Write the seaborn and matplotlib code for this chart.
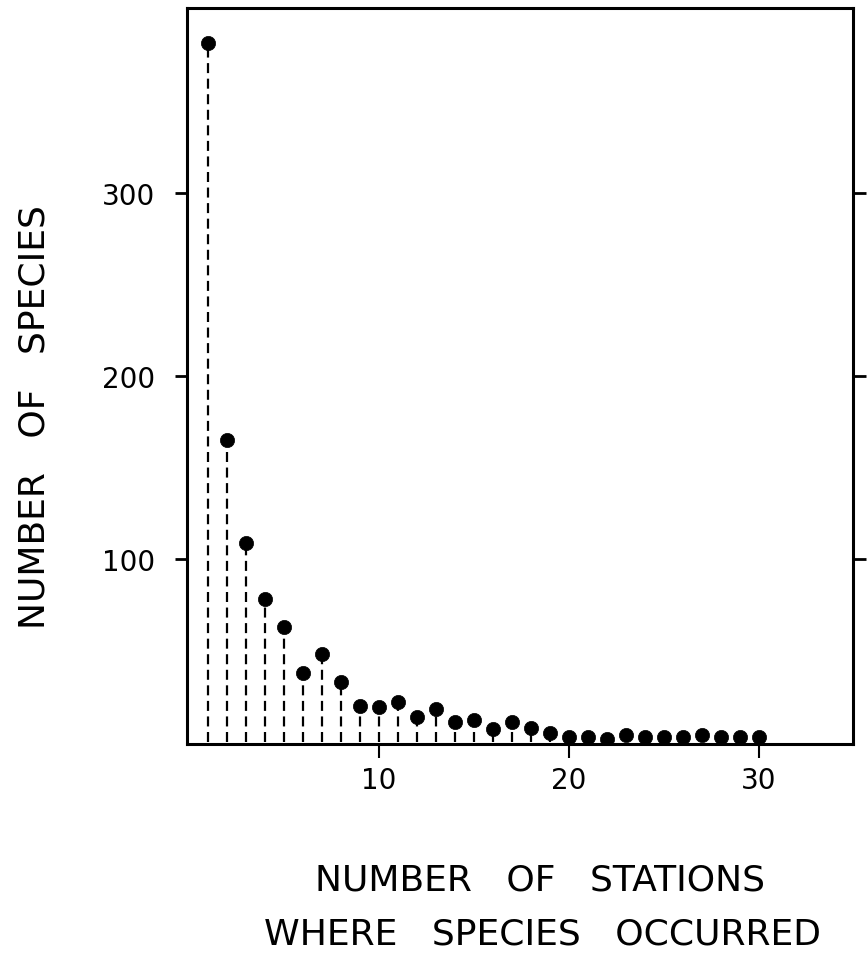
import matplotlib
matplotlib.use("Agg")
import matplotlib.pyplot as plt
import seaborn as sns
import pandas as pd

# Number of stations at which a species was recorded (1..30)
stations = list(range(1, 31))
# Number of species recorded at exactly that many stations
species_counts = [382, 165, 109, 78, 63, 38, 48, 33, 20, 19,
                  22, 14, 18, 11, 12, 7, 11, 8, 5, 3,
                  3, 2, 4, 3, 3, 3, 4, 3, 3, 3]

x_ticks = [10, 20, 30]
x_tick_labels = ["10", "20", "30"]
y_ticks = [100, 200, 300]
y_tick_labels = ["100", "200", "300"]

df = pd.DataFrame({"stations": stations, "species": species_counts})

sns.set_theme(style="ticks")
plt.rcParams["font.family"] = ["DejaVu Sans"]

fig = plt.figure(figsize=(8.68, 9.79), dpi=100)
ax = fig.add_axes([187 / 868, 1 - 745 / 979, 666 / 868, 736 / 979])

# dashed stems from the baseline up to each point
ax.vlines(df["stations"], 0, df["species"], colors="black",
          linestyles=(0, (4.5, 2.5)), linewidth=1.6, zorder=2)
sns.scatterplot(data=df, x="stations", y="species", ax=ax,
                color="black", s=105, edgecolor="black", linewidth=0.5,
                zorder=3, legend=False)

ax.set_xlim(-0.1, 34.95)
ax.set_ylim(-1, 401)

ax.set_xticks(x_ticks)
ax.set_xticklabels(x_tick_labels)
ax.set_yticks(y_ticks)
ax.set_yticklabels(y_tick_labels)

for side in ["left", "right", "top", "bottom"]:
    ax.spines[side].set_visible(True)
    ax.spines[side].set_linewidth(2.2)
    ax.spines[side].set_color("black")

ax.tick_params(axis="y", which="both", direction="out", length=9, width=2,
               left=True, right=True, labelleft=True, labelright=False,
               labelsize=20, pad=14, colors="black")
ax.tick_params(axis="x", which="both", direction="out", length=10, width=1.5,
               bottom=True, top=False, labelsize=20, pad=6, colors="black")

ax.set_xlabel("")
ax.set_ylabel("")
ax.grid(False)

fig.text(35 / 868, 1 - 417 / 979, "NUMBER   OF   SPECIES", rotation=90,
         ha="center", va="center", fontsize=26, color="black")
fig.text(540 / 868, 1 - 881 / 979, "NUMBER   OF   STATIONS",
         ha="center", va="center", fontsize=26, color="black")
fig.text(543 / 868, 1 - 935 / 979, "WHERE   SPECIES   OCCURRED",
         ha="center", va="center", fontsize=26, color="black")

fig.savefig("out.png", dpi=100, facecolor="white")
